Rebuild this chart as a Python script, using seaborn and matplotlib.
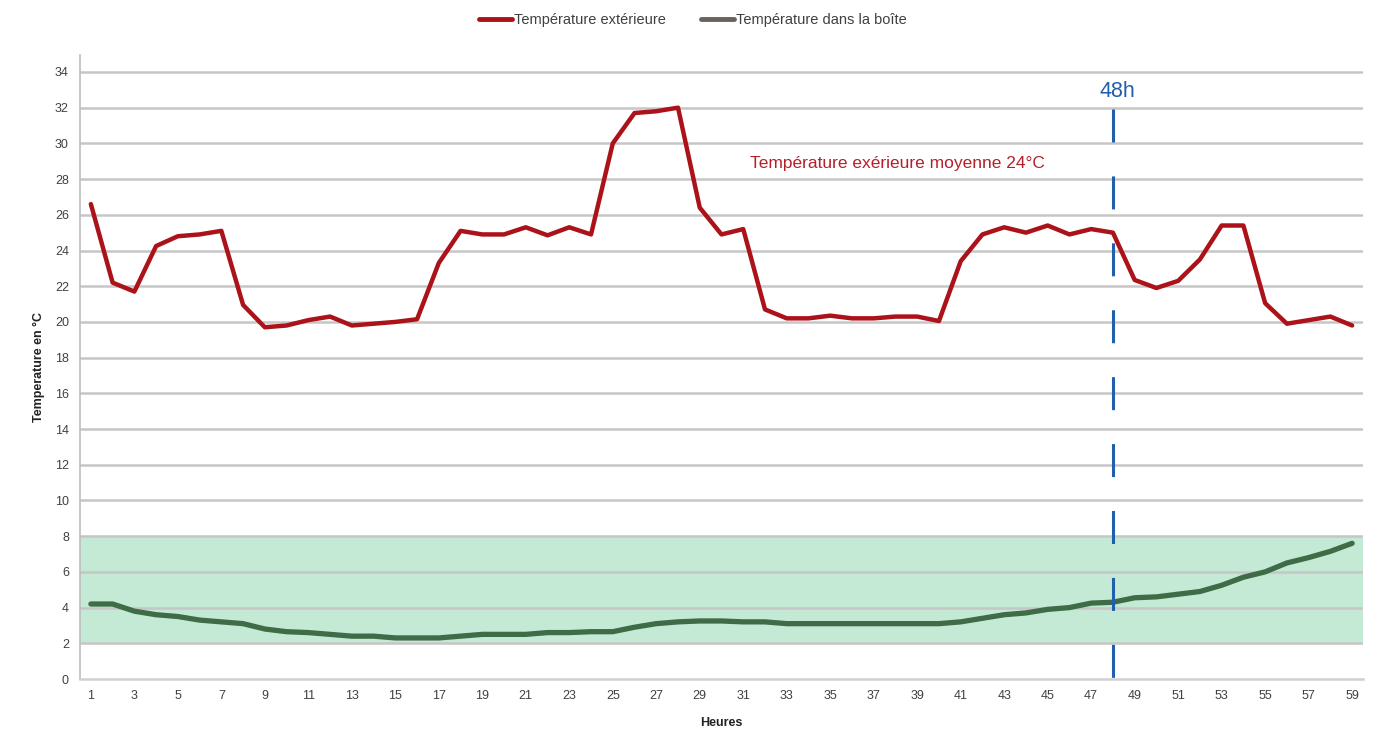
import matplotlib
matplotlib.use("Agg")
import matplotlib.pyplot as plt
from matplotlib.lines import Line2D
import seaborn as sns
import pandas as pd

hours = list(range(1, 60))
temp_ext = [26.6, 22.2, 21.7, 24.25, 24.8, 24.9, 25.1, 20.95, 19.7, 19.8,
            20.1, 20.3, 19.8, 19.9, 20.0, 20.15, 23.3, 25.1, 24.9, 24.9,
            25.3, 24.85, 25.3, 24.9, 30.0, 31.7, 31.8, 32.0, 26.4, 24.9,
            25.2, 20.7, 20.2, 20.2, 20.35, 20.2, 20.2, 20.3, 20.3, 20.05,
            23.4, 24.9, 25.3, 25.0, 25.4, 24.9, 25.2, 25.0, 22.35, 21.9,
            22.3, 23.5, 25.4, 25.4, 21.05, 19.9, 20.1, 20.3, 19.8]
temp_box = [4.2, 4.2, 3.8, 3.6, 3.5, 3.3, 3.2, 3.1, 2.8, 2.65,
            2.6, 2.5, 2.4, 2.4, 2.3, 2.3, 2.3, 2.4, 2.5, 2.5,
            2.5, 2.6, 2.6, 2.65, 2.65, 2.9, 3.1, 3.2, 3.25, 3.25,
            3.2, 3.2, 3.1, 3.1, 3.1, 3.1, 3.1, 3.1, 3.1, 3.1,
            3.2, 3.4, 3.6, 3.7, 3.9, 4.0, 4.25, 4.3, 4.55, 4.6,
            4.75, 4.9, 5.25, 5.7, 6.0, 6.5, 6.8, 7.15, 7.6]
series_names = ["Température extérieure", "Température dans la boîte"]
band_low, band_high = 2, 8
marker_hour = 48
marker_top = 31.9
marker_label = "48h"
annotation = "Température exérieure moyenne 24°C"
y_ticks = list(range(0, 35, 2))
x_ticks = list(range(1, 60, 2))

df = pd.DataFrame({"Heures": hours, "ext": temp_ext, "box": temp_box})

sns.set_style("white")
plt.rcParams['font.family'] = ['Liberation Sans', 'DejaVu Sans']

fig = plt.figure(figsize=(13.77, 7.31), dpi=100)
ax = fig.add_axes([80/1377, 1-679/731, (1363-80)/1377, (679-55)/731])

red = "#ab1219"
green = "#3f6b47"
ax.axhspan(band_low, band_high, color="#c4ead6", zorder=0)
for yt in y_ticks[1:]:
    ax.axhline(yt, color="#c6c6c6", lw=1.8, zorder=1)

sns.lineplot(data=df, x="Heures", y="ext", ax=ax, color=red, lw=3.2, zorder=3)
sns.lineplot(data=df, x="Heures", y="box", ax=ax, color=green, lw=3.8, zorder=3)

ax.plot([marker_hour, marker_hour], [marker_top, 0], color="#1f5fab", lw=2.2,
        dashes=(10.8, 11.1), zorder=4)
ax.text(marker_hour + 0.2, 32.3, marker_label, color="#1f5fab", fontsize=15.5,
        ha="center", va="bottom")
ax.text(31.3, 28.9, annotation, color="#b5202b", fontsize=12.5, ha="left", va="center")

ax.set_xlim(0.5, 59.5)
ax.set_ylim(0, 34.95)
ax.set_xticks(x_ticks)
ax.set_yticks(y_ticks)
ax.tick_params(axis="both", labelsize=9, colors="#404040", length=0, pad=8)
for s in ["top", "right"]:
    ax.spines[s].set_visible(False)
ax.spines["left"].set_color("#bdbdbd")
ax.spines["bottom"].set_color("#d0d0d0")
ax.spines["left"].set_linewidth(1.2)
ax.spines["bottom"].set_linewidth(1.8)

ax.set_xlabel("Heures", fontsize=9, fontweight="bold", color="#222222", labelpad=11)
ax.set_ylabel("Temperature en °C", fontsize=9, fontweight="bold", color="#222222", labelpad=7)

handles = [Line2D([0], [0], color=red, lw=3.5), Line2D([0], [0], color="#6a625e", lw=3.5)]
fig.legend(handles, series_names, loc="center", bbox_to_anchor=(0.503, 0.973), ncol=2,
           frameon=False, fontsize=10.5, handlelength=2.3, handletextpad=0.1, columnspacing=2.4,
           labelcolor="#404040")

fig.savefig("out.png", dpi=100)
